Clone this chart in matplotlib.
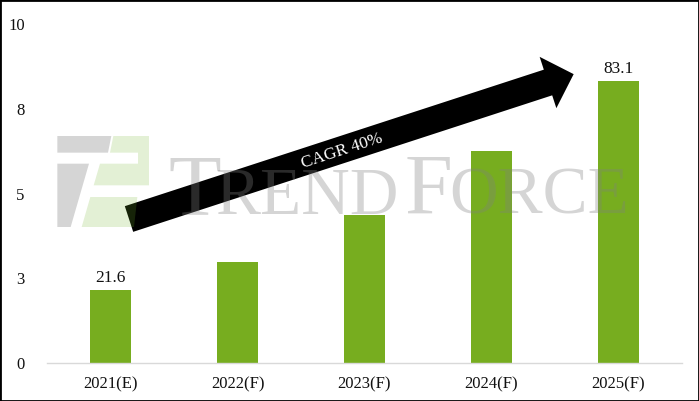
import numpy as np
import matplotlib
matplotlib.use('Agg')
import matplotlib.pyplot as plt
from matplotlib.patches import Polygon, Rectangle

categories = ['2021(E)', '2022(F)', '2023(F)', '2024(F)', '2025(F)']
values = [2.16, 2.99, 4.37, 6.25, 8.31]
bar_labels = ['21.6', '', '', '', '83.1']
ytick_pos = [0, 2.5, 5, 7.5, 10]
ytick_labels = ['0', '3', '5', '8', '10']

W, H = 699, 401
plt.rcParams['font.family'] = ['Liberation Serif', 'DejaVu Serif']

fig = plt.figure(figsize=(W / 100, H / 100), dpi=100)
ax = fig.add_axes([47 / W, 1 - 363 / H, (682 - 47) / W, (363 - 24) / H])

x = np.arange(len(categories))
ax.bar(x, values, width=0.315, color='#77ad1f', zorder=2)
for xi, v, lab in zip(x, values, bar_labels):
    if lab:
        ax.annotate(lab, (xi, v), xytext=(0, 3), textcoords='offset points',
                    ha='center', va='bottom', fontsize=12.5, color='#111111')

ax.set_xlim(-0.5, len(categories) - 0.5)
ax.set_ylim(0, 10)
ax.set_xticks(x)
ax.set_xticklabels(categories, fontsize=12)
ax.set_yticks(ytick_pos)
ax.set_yticklabels(ytick_labels, fontsize=12)
ax.tick_params(axis='both', length=0, colors='#111111')
ax.tick_params(axis='y', pad=16)
ax.tick_params(axis='x', pad=10)
for s in ['top', 'right', 'left']:
    ax.spines[s].set_visible(False)
ax.spines['bottom'].set_color('#d9d9d9')
ax.spines['bottom'].set_linewidth(1.0)


def fp(px, py):
    # image pixel -> figure fraction
    return (px / W, 1 - py / H)


# growth arrow
tail = np.array([129.0, 219.0])
base = np.array([548.0, 82.5])
d = base - tail
u = d / np.linalg.norm(d)
n = np.array([-u[1], u[0]])
w, hw, hl = 13.5, 27.0, 27.0
tip = base + hl * u
pts = [tail + w * n, base + w * n, base + hw * n, tip, base - hw * n, base - w * n, tail - w * n]
fig.patches.append(Polygon([fp(*p) for p in pts], closed=True, transform=fig.transFigure,
                           facecolor='black', edgecolor='none', zorder=5))
ang = np.degrees(np.arctan2(-d[1], d[0]))
fig.text(*fp(342, 151), 'CAGR 40%', rotation=ang, rotation_mode='anchor', ha='center', va='center',
         color='white', fontsize=12.5, zorder=6)


# watermark logo
def logo_pts(pts):
    return [fp(54 + a / 3, 132 + b / 3) for a, b in pts]

gray_parts = [
    [(10, 12), (172, 12), (162, 62), (10, 62)],
    [(10, 95), (105, 95), (50, 285), (10, 285)],
]
green_parts = [
    [(178, 12), (285, 12), (285, 160), (119, 160), (138, 95), (252, 95), (252, 62), (168, 62)],
    [(109, 195), (250, 195), (240, 285), (83, 285)],
]
for part in gray_parts:
    fig.patches.append(Polygon(logo_pts(part), closed=True, transform=fig.transFigure,
                               facecolor='#808080', alpha=0.33, edgecolor='none', zorder=7))
for part in green_parts:
    fig.patches.append(Polygon(logo_pts(part), closed=True, transform=fig.transFigure,
                               facecolor='#73b42d', alpha=0.2, edgecolor='none', zorder=7))

# watermark text (small caps)
for txt, px, size in [('T', 168, 62), ('REND', 215, 48.5), ('F', 405, 62), ('ORCE', 449, 48.5)]:
    fig.text(*fp(px, 214), txt, ha='left', va='baseline', fontsize=size,
             color='#808080', alpha=0.33, zorder=8)

# outer frame
fig.patches.append(Rectangle((0, 0), 1, 1, transform=fig.transFigure, fill=False,
                             edgecolor='black', linewidth=2, zorder=10))

fig.savefig('out.png', dpi=100)
